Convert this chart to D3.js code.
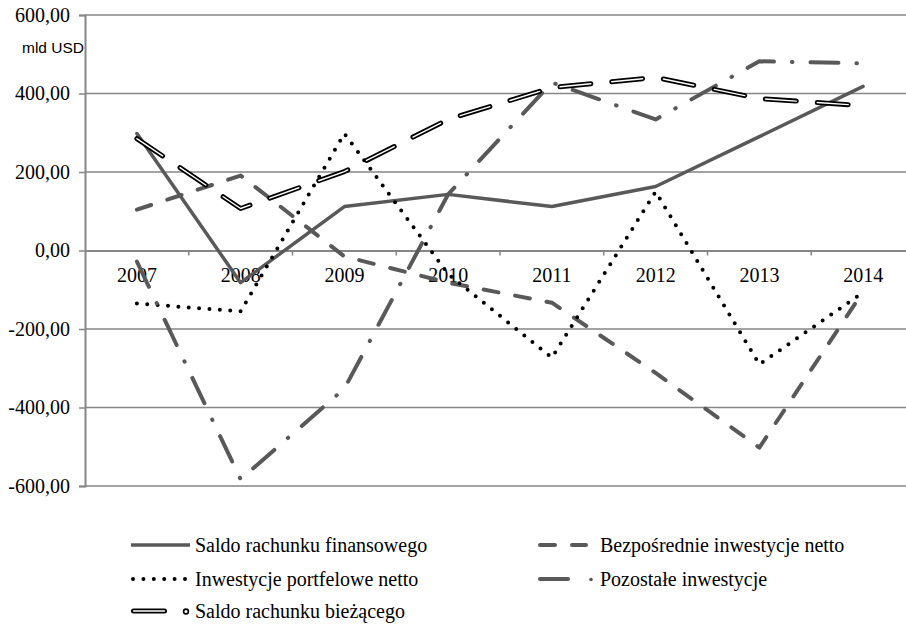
<!DOCTYPE html>
<html>
<head>
<meta charset="utf-8">
<script src="https://cdn.jsdelivr.net/npm/d3@7"></script>
<style>
  body { margin: 0; background: #fff; }
  svg { display: block; }
  .serif { font-family: "Liberation Serif", "Times New Roman", Times, serif; }
</style>
</head>
<body>
<div id="chart"></div>
<script>
// Values (mld USD)
const years = ["2007", "2008", "2009", "2010", "2011", "2012", "2013", "2014"];
const finansowy = [298, -82, 112, 143, 112, 163, 290, 418];
const bezposrednie = [104, 191, -15, -82, -133, -312, -502, -105];
const portfelowe = [-135, -155, 298, -60, -273, 150, -290, -107];
const pozostale = [-28, -583, -352, 143, 428, 334, 482, 477];
const biezacy = [285, 107, 201, 334, 415, 441, 387, 369];
const yTicks = [-600, -400, -200, 0, 200, 400, 600];
const seriesNames = [
  "Saldo rachunku finansowego",
  "Bezpośrednie inwestycje netto",
  "Inwestycje portfelowe netto",
  "Pozostałe inwestycje",
  "Saldo rachunku bieżącego"
];

const width = 906, height = 624;
const gray = "#595959", gridGray = "#868686";
const fontSize = "20px";

const svg = d3.select("#chart").append("svg")
  .attr("width", width).attr("height", height);

const x = d3.scaleBand().domain(years).range([85, 915]);
const cx = d => x(d) + x.bandwidth() / 2;
const y = d3.scaleLinear().domain([-600, 600]).range([486, 15]);

// gridlines
svg.append("g").selectAll("line").data(yTicks.filter(d => d !== 0)).enter()
  .append("line")
  .attr("x1", 85).attr("x2", 915)
  .attr("y1", d => y(d)).attr("y2", d => y(d))
  .style("stroke", gridGray).style("stroke-width", 1.5);

// y axis
const yAxis = svg.append("g").attr("transform", "translate(85,0)")
  .call(d3.axisLeft(y).tickValues(yTicks).tickSize(6).tickPadding(9)
    .tickFormat(d => d3.format(".2f")(d).replace(".", ",").replace("−", "-")));
yAxis.attr("font-family", null);
yAxis.select(".domain").style("stroke", gridGray).style("stroke-width", 2);
yAxis.selectAll(".tick line").style("stroke", gridGray).style("stroke-width", 1.5);
yAxis.selectAll("text").attr("class", "serif")
  .style("font-size", fontSize).style("fill", "#000");

// category axis on zero line
const xAxis = svg.append("g").attr("transform", `translate(0,${y(0)})`)
  .call(d3.axisBottom(x).tickSize(0).tickPadding(17));
xAxis.attr("font-family", null);
xAxis.select(".domain").style("stroke", gridGray).style("stroke-width", 2);
xAxis.selectAll("text").attr("class", "serif")
  .style("font-size", fontSize).style("fill", "#000");
// tick marks between categories
xAxis.append("g").selectAll("line").data(years.slice(1)).enter()
  .append("line")
  .attr("x1", d => x(d)).attr("x2", d => x(d))
  .attr("y1", 0).attr("y2", 5)
  .style("stroke", gridGray).style("stroke-width", 1.5);

svg.append("text")
  .attr("x", 22).attr("y", 53)
  .style("font-family", "'Liberation Sans', Arial, sans-serif").style("font-size", "15.5px")
  .text("mld USD");

// series
const line = d3.line().x((d, i) => cx(years[i])).y(d => y(d));

const styles = [
  { data: finansowy, stroke: gray, w: 3.5, dash: null },
  { data: bezposrednie, stroke: gray, w: 4, dash: "15 17" },
  { data: portfelowe, stroke: "#000", w: 4, dash: "0 10.4" },
  { data: pozostale, stroke: gray, w: 4, dash: "28 18 0.5 18" },
  { data: biezacy, stroke: "#000", w: 5, dash: "31 21", inner: true }
];

styles.forEach(s => {
  svg.append("path").datum(s.data)
    .attr("d", line)
    .style("fill", "none").style("stroke", s.stroke)
    .style("stroke-width", s.w)
    .style("stroke-dasharray", s.dash)
    .style("stroke-linecap", "round").style("stroke-linejoin", "round");
  if (s.inner) {
    svg.append("path").datum(s.data)
      .attr("d", line)
      .style("fill", "none").style("stroke", "#fff")
      .style("stroke-width", 1.4)
      .style("stroke-dasharray", s.dash)
      .style("stroke-linecap", "round").style("stroke-linejoin", "round");
  }
});

// legend: two columns, three rows
const colX = [131, 538], textX = [195, 600], rowY = [545, 579, 611];
const legend = svg.append("g");
styles.forEach((s, i) => {
  const lx = colX[i % 2], ly = rowY[Math.floor(i / 2)];
  const g = legend.append("g").attr("transform", `translate(${lx},${ly})`);
  const r = s.w / 2;
  if (i === 0 || i === 2 || i === 1) {
    const len = i === 1 ? 50 : 59;
    g.append("line")
      .attr("x1", s.dash ? r : 0).attr("x2", len - (s.dash ? r : 0))
      .style("stroke", s.stroke).style("stroke-width", s.w)
      .style("stroke-dasharray", s.dash)
      .style("stroke-linecap", s.dash ? "round" : "butt");
  } else if (i === 3) {
    g.append("line").attr("x1", r).attr("x2", 32 - r)
      .style("stroke", s.stroke).style("stroke-width", s.w)
      .style("stroke-linecap", "round");
    g.append("circle").attr("cx", 53).attr("cy", 0.5).attr("r", 1.8)
      .style("fill", gray);
  } else {
    g.append("line").attr("x1", r).attr("x2", 36 - r)
      .style("stroke", "#000").style("stroke-width", s.w)
      .style("stroke-linecap", "round");
    g.append("line").attr("x1", r).attr("x2", 36 - r)
      .style("stroke", "#fff").style("stroke-width", 1.4)
      .style("stroke-linecap", "round");
    g.append("circle").attr("cx", 55).attr("cy", 0.5).attr("r", 2.4)
      .style("fill", "#fff").style("stroke", "#000").style("stroke-width", 1.6);
  }
  legend.append("text").attr("class", "serif")
    .attr("x", textX[i % 2]).attr("y", ly).attr("dy", "0.33em")
    .style("font-size", fontSize)
    .text(seriesNames[i]);
});
</script>
</body>
</html>
